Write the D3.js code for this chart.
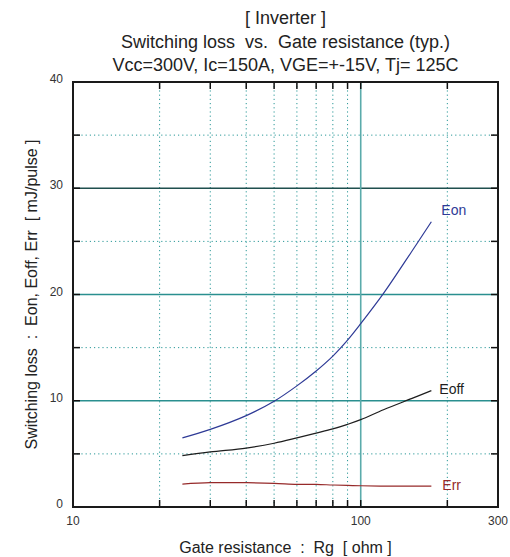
<!DOCTYPE html>
<html>
<head>
<meta charset="utf-8">
<script src="https://cdn.jsdelivr.net/npm/d3@7"></script>
<style>
  body { margin: 0; background: #fff; }
  svg { font-family: "Liberation Sans", Arial, sans-serif; }
  text { white-space: pre; }
</style>
</head>
<body>
<div id="chart"></div>
<script>
// gate resistance [ohm]
const rg = [24, 30, 40, 50, 60, 70, 80, 90, 100, 120, 150, 176];
// switching loss [mJ/pulse]
const eon = [6.5, 7.3, 8.6, 9.95, 11.4, 12.8, 14.2, 15.7, 17.25, 20.1, 24.0, 26.85];
const eoff = [4.83, 5.18, 5.55, 6.0, 6.5, 6.95, 7.35, 7.78, 8.22, 9.15, 10.2, 10.95];
const err = [2.16, 2.29, 2.29, 2.23, 2.13, 2.13, 2.07, 2.03, 2.0, 1.97, 1.97, 1.97];

const xLabels = [10, 100, 300];
const xMinor = [20, 30, 40, 50, 60, 70, 80, 90, 200];
const yLabels = [0, 10, 20, 30, 40];
const yMinor = [5, 15, 25, 35];

const titleLines = [
    "[ Inverter ]",
    "Switching loss  vs.  Gate resistance (typ.)",
    "Vcc=300V, Ic=150A, VGE=+-15V, Tj= 125C"
];

const width = 510, height = 557;
const margin = {top: 82, right: 12, bottom: 50, left: 73};

const svg = d3.select("#chart")
              .append("svg")
              .attr("width", width)
              .attr("height", height);

const x = d3.scaleLog()
            .domain([10, 300])
            .range([margin.left, width - margin.right]);

const y = d3.scaleLinear()
            .domain([0, 40])
            .range([height - margin.bottom, margin.top]);

const x0 = x.range()[0], x1 = x.range()[1];
const y0 = y.range()[0], y1 = y.range()[1];

// dotted grid
const grid = svg.append("g").attr("class", "grid");
grid.selectAll(".vdot")
    .data(xMinor)
    .enter()
    .append("line")
    .attr("x1", d => x(d)).attr("x2", d => x(d))
    .attr("y1", y1).attr("y2", y0)
    .style("stroke", "#2a9898")
    .style("stroke-width", 1)
    .style("stroke-dasharray", "1.2,3");

grid.selectAll(".hdot")
    .data(yMinor)
    .enter()
    .append("line")
    .attr("x1", x0).attr("x2", x1)
    .attr("y1", d => y(d)).attr("y2", d => y(d))
    .style("stroke", "#2a9898")
    .style("stroke-width", 1)
    .style("stroke-dasharray", "1.2,3");

// solid grid
grid.selectAll(".hsolid")
    .data([10, 20, 30])
    .enter()
    .append("line")
    .attr("x1", x0).attr("x2", x1)
    .attr("y1", d => y(d)).attr("y2", d => y(d))
    .style("stroke", d => d === 30 ? "#1f4f4e" : "#2a8f8f")
    .style("stroke-width", 1.3);

grid.append("line")
    .attr("x1", x(100)).attr("x2", x(100))
    .attr("y1", y1).attr("y2", y0)
    .style("stroke", "#5aabab")
    .style("stroke-width", 1.6);

// curves
const line = d3.line()
               .x((d, i) => x(rg[i]))
               .y(d => y(d))
               .curve(d3.curveCatmullRom.alpha(0.5));

const series = [
    {name: "Eon", values: eon, color: "#2e3a96", dx: 10, dy: -12},
    {name: "Eoff", values: eoff, color: "#1e1e1e", dx: 8, dy: -2},
    {name: "Err", values: err, color: "#962a2a", dx: 11, dy: -1}
];

svg.selectAll(".curve")
   .data(series)
   .enter()
   .append("path")
   .attr("d", d => line(d.values))
   .style("fill", "none")
   .style("stroke", d => d.color)
   .style("stroke-width", 1.2);

// curve labels
svg.selectAll(".clabel")
   .data(series)
   .enter()
   .append("text")
   .attr("x", d => x(rg[rg.length - 1]) + d.dx)
   .attr("y", d => y(d.values[d.values.length - 1]) + d.dy)
   .attr("dy", "0.35em")
   .style("font-size", "14px")
   .style("fill", d => d.color)
   .text(d => d.name);

// ticks, all four sides, pointing in
const tickLen = 7;
const allX = xLabels.concat(xMinor).filter(d => d > 10 && d < 300);
const allY = yLabels.concat(yMinor).filter(d => d > 0 && d < 40);

const ticks = svg.append("g")
                 .style("stroke", "#111")
                 .style("stroke-width", 1.5);

ticks.selectAll(".tb")
     .data(allX)
     .enter()
     .append("line")
     .attr("x1", d => x(d)).attr("x2", d => x(d))
     .attr("y1", y0).attr("y2", y0 - tickLen);

ticks.selectAll(".tt")
     .data(allX)
     .enter()
     .append("line")
     .attr("x1", d => x(d)).attr("x2", d => x(d))
     .attr("y1", y1).attr("y2", y1 + tickLen);

ticks.selectAll(".tl")
     .data(allY)
     .enter()
     .append("line")
     .attr("x1", x0).attr("x2", x0 + tickLen)
     .attr("y1", d => y(d)).attr("y2", d => y(d));

ticks.selectAll(".tr")
     .data(allY)
     .enter()
     .append("line")
     .attr("x1", x1).attr("x2", x1 - tickLen)
     .attr("y1", d => y(d)).attr("y2", d => y(d));

// frame
svg.append("rect")
   .attr("x", x0).attr("y", y1)
   .attr("width", x1 - x0).attr("height", y0 - y1)
   .style("fill", "none")
   .style("stroke", "#1a1a1a")
   .style("stroke-width", 2);

// tick labels
svg.selectAll(".xl")
   .data(xLabels)
   .enter()
   .append("text")
   .attr("x", d => x(d))
   .attr("y", y0 + 18)
   .attr("text-anchor", "middle")
   .style("font-size", "12px")
   .style("fill", "#333")
   .text(d => d);

svg.selectAll(".yl")
   .data(yLabels)
   .enter()
   .append("text")
   .attr("x", x0 - 10)
   .attr("y", d => y(d) + 1)
   .attr("text-anchor", "end")
   .style("font-size", "12px")
   .style("fill", "#333")
   .text(d => d);

// titles
svg.selectAll(".title")
   .data(titleLines)
   .enter()
   .append("text")
   .attr("x", (x0 + x1) / 2)
   .attr("y", (d, i) => 24 + i * 23.5)
   .attr("text-anchor", "middle")
   .style("font-size", "18px")
   .style("fill", "#222")
   .text(d => d);

svg.append("text")
   .attr("x", (x0 + x1) / 2)
   .attr("y", height - 4)
   .attr("text-anchor", "middle")
   .style("font-size", "16px")
   .style("fill", "#222")
   .text("Gate resistance  :  Rg  [ ohm ]");

svg.append("text")
   .attr("transform", `translate(37, ${(y0 + y1) / 2}) rotate(-90)`)
   .attr("text-anchor", "middle")
   .style("font-size", "16px")
   .style("fill", "#222")
   .text("Switching loss  :  Eon, Eoff, Err  [ mJ/pulse ]");
</script>
</body>
</html>
